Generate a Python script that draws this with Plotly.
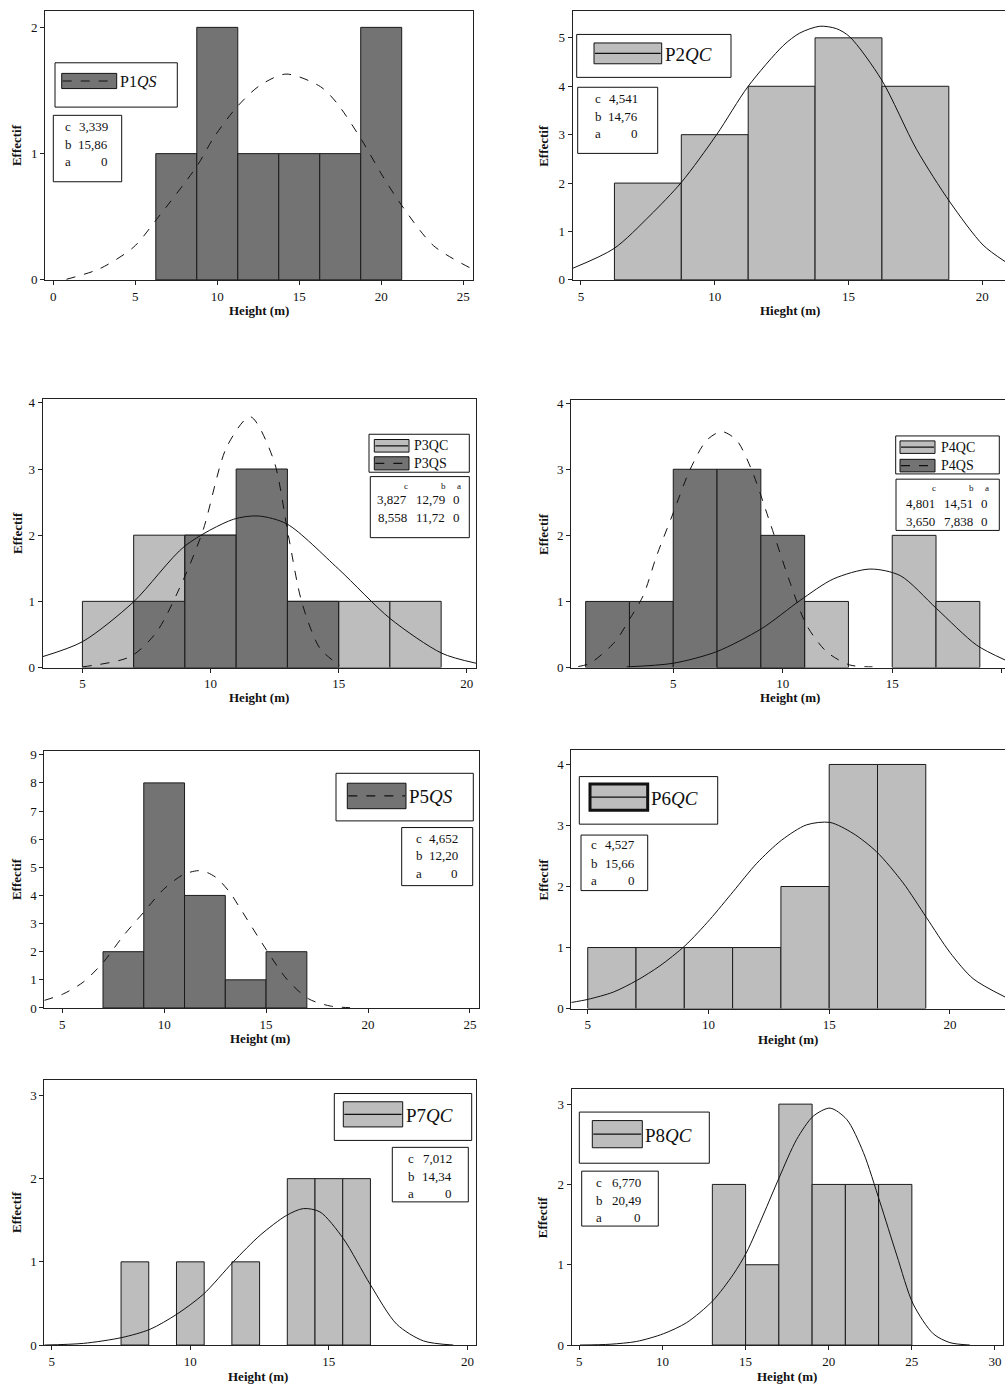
import plotly.graph_objects as go

W, H = 1005, 1392
FONT = "Liberation Serif"
DARK = "#737373"
LIGHT = "#bdbdbd"

# ---------------- data ----------------
# P1 (QS)
p1_centers = [7.5, 10.0, 12.5, 15.0, 17.5, 20.0]
p1_counts = [1, 2, 1, 1, 1, 2]
p1_curve_x = [0.8, 2.85, 4.9, 6.3, 8.75, 9.8, 11.2, 12.6, 14.2, 16.3, 17.3, 18.8, 20.1, 21.25, 23.2, 25.5]
p1_curve_y = [0.005, 0.09, 0.26, 0.48, 0.90, 1.13, 1.37, 1.54, 1.63, 1.53, 1.40, 1.11, 0.82, 0.59, 0.27, 0.09]
p1_params = ["3,339", "15,86", "0"]

# P2 (QC)
p2_centers = [7.5, 10.0, 12.5, 15.0, 17.5]
p2_counts = [2, 3, 4, 5, 4]
p2_curve_x = [4.69, 6.24, 7.58, 8.76, 10.07, 11.25, 12.56, 13.18, 13.93, 14.55, 15.05, 16.24, 17.54, 18.79, 20.03, 20.85]
p2_curve_y = [0.24, 0.65, 1.33, 2.02, 3.0, 4.0, 4.84, 5.10, 5.24, 5.19, 5.02, 4.13, 2.70, 1.61, 0.72, 0.38]
p2_params = ["4,541", "14,76", "0"]

# P3 (QC + QS)
p3_centers = [6, 8, 10, 12, 14, 16, 18]
p3qc_counts = [1, 2, 2, 2, 1, 1, 1]
p3qs_counts = [0, 1, 2, 3, 1, 0, 0]
p3qc_curve_x = [3.45, 5.0, 6.99, 9.01, 10.89, 11.87, 12.98, 14.99, 17.01, 19.03, 20.36]
p3qc_curve_y = [0.165, 0.39, 0.99, 1.84, 2.24, 2.29, 2.17, 1.49, 0.74, 0.215, 0.065]
p3qs_curve_x = [5.0, 6.87, 7.9, 9.01, 9.72, 10.64, 11.55, 12.46, 13.04, 13.56, 14.27, 15.05]
p3qs_curve_y = [0.01, 0.165, 0.54, 1.39, 2.09, 3.34, 3.79, 3.14, 1.99, 0.99, 0.29, 0.03]
p3_params = [["3,827", "12,79", "0"], ["8,558", "11,72", "0"]]

# P4 (QC + QS)
p4_centers = [2, 4, 6, 8, 10, 12, 14, 16, 18]
p4qc_counts = [0, 0, 0, 1, 1, 1, 0, 2, 1]
p4qs_counts = [1, 1, 3, 3, 2, 0, 0, 0, 0]
p4qs_curve_x = [0.66, 1.2, 2.34, 3.02, 3.63, 4.24, 5.0, 5.76, 6.53, 7.21, 7.89, 8.58, 9.42, 10.33, 11.09, 12.0, 13.05, 14.1]
p4qs_curve_y = [0.015, 0.065, 0.39, 0.74, 1.09, 1.69, 2.34, 2.99, 3.44, 3.57, 3.44, 2.99, 2.19, 1.29, 0.64, 0.24, 0.04, 0.01]
p4qc_curve_x = [2.87, 5.0, 6.98, 9.04, 10.79, 12.31, 13.98, 15.37, 17.03, 18.85, 20.15]
p4qc_curve_y = [0.01, 0.065, 0.24, 0.59, 1.015, 1.34, 1.49, 1.39, 0.89, 0.34, 0.115]
p4_params = [["4,801", "14,51", "0"], ["3,650", "7,838", "0"]]

# P5 (QS)
p5_centers = [8, 10, 12, 14, 16]
p5_counts = [2, 8, 4, 1, 2]
p5_curve_x = [4.12, 5.05, 6.03, 7.01, 7.99, 8.97, 9.96, 10.94, 11.67, 12.09, 12.58, 13.23, 13.72, 15.03, 16.01, 17.07, 18.14, 19.12]
p5_curve_y = [0.27, 0.5, 0.92, 1.62, 2.56, 3.38, 4.21, 4.74, 4.88, 4.82, 4.62, 4.1, 3.55, 2.05, 1.03, 0.33, 0.07, 0.01]
p5_params = ["4,652", "12,20", "0"]

# P6 (QC)
p6_centers = [6, 8, 10, 12, 14, 16, 18]
p6_counts = [1, 1, 1, 1, 2, 4, 4]
p6_curve_x = [4.32, 5.0, 6.06, 7.03, 7.99, 9.03, 10.06, 11.03, 12.0, 13.03, 14.06, 15.03, 15.99, 16.96, 18.06, 19.03, 20.0, 20.96, 22.28]
p6_curve_y = [0.1, 0.15, 0.27, 0.46, 0.70, 1.03, 1.46, 1.92, 2.38, 2.76, 3.01, 3.05, 2.87, 2.57, 2.06, 1.49, 0.92, 0.49, 0.19]
p6_params = ["4,527", "15,66", "0"]

# P7 (QC)
p7_centers = [8, 10, 12, 14, 15, 16]
p7_counts = [1, 1, 1, 2, 2, 2]
p7_curve_x = [4.73, 6.14, 7.53, 8.55, 9.51, 10.47, 11.55, 12.52, 13.48, 14.08, 14.68, 15.52, 16.49, 17.45, 18.41, 19.49]
p7_curve_y = [0.0, 0.02, 0.09, 0.19, 0.37, 0.61, 1.0, 1.32, 1.56, 1.64, 1.6, 1.28, 0.73, 0.25, 0.05, 0.0]
p7_params = ["7,012", "14,34", "0"]

# P8 (QC)
p8_centers = [14, 16, 18, 20, 22, 24]
p8_counts = [2, 1, 3, 2, 2, 2]
p8_curve_x = [5.04, 6.85, 8.45, 10.05, 11.46, 13.02, 14.26, 15.07, 16.06, 17.03, 18.07, 19.07, 20.08, 21.08, 22.08, 23.08, 24.09, 25.08, 26.29, 27.29, 28.49]
p8_curve_y = [0.0, 0.01, 0.045, 0.14, 0.28, 0.55, 0.88, 1.16, 1.62, 2.09, 2.56, 2.85, 2.95, 2.81, 2.40, 1.78, 1.12, 0.51, 0.14, 0.03, 0.0]
p8_params = ["6,770", "20,49", "0"]

# ---------------- helpers ----------------
def px(x):
    return x / W


def py(y):
    return 1 - y / H


fig = go.Figure()
shapes = []
annotations = []
layout = {}

panels = [
    dict(L=45, R=473, T=7, B=278.3, xr=[-0.51, 25.6], yr=[0, 2.13], xt=[0, 5, 10, 15, 20, 25], yt=[0, 1, 2],
         xtitle="Height (m)", mirror_y=True, ex=16.7, tx=259, ty=309.3),
    dict(L=572.7, R=1005, T=7.3, B=278.3, xr=[4.69, 20.85], yr=[0, 5.55], xt=[5, 10, 15, 20], yt=[0, 1, 2, 3, 4, 5],
         xtitle="Hieght (m)", mirror_y=False, ex=543.3, tx=790, ty=309.3),
    dict(L=42.7, R=476, T=398.3, B=669.3, xr=[3.45, 20.36], yr=[0, 4.06], xt=[5, 10, 15, 20], yt=[0, 1, 2, 3, 4],
         xtitle="Height (m)", mirror_y=True, ex=16.7, tx=259.3, ty=700),
    dict(L=571, R=1005, T=399.3, B=669.3, xr=[0.33, 20.15], yr=[0, 4.05], xt=[5, 10, 15, 20], yt=[0, 1, 2, 3, 4],
         xtitle="Height (m)", mirror_y=False, ex=543.3, tx=790, ty=700),
    dict(L=44.3, R=479.3, T=753.3, B=1012.7, xr=[4.12, 25.46], yr=[0, 9.14], xt=[5, 10, 15, 20, 25],
         yt=list(range(10)), xtitle="Height (m)", mirror_y=True, ex=16.7, tx=260, ty=1043.3),
    dict(L=571.3, R=1005, T=752.3, B=1013.3, xr=[4.32, 22.28], yr=[0, 4.24], xt=[5, 10, 15, 20], yt=[0, 1, 2, 3, 4],
         xtitle="Height (m)", mirror_y=False, ex=543.3, tx=788.3, ty=1044),
    dict(L=44.3, R=476, T=1085, B=1352.7, xr=[4.73, 20.31], yr=[0, 3.19], xt=[5, 10, 15, 20], yt=[0, 1, 2, 3],
         xtitle="Height (m)", mirror_y=True, ex=16.7, tx=258.3, ty=1384.3),
    dict(L=571.7, R=1003.3, T=1094.3, B=1352.7, xr=[4.54, 30.5], yr=[0, 3.19], xt=[5, 10, 15, 20, 25, 30],
         yt=[0, 1, 2, 3], xtitle="Height (m)", mirror_y=True, ex=543.3, tx=786.7, ty=1384.3),
]

bar_data = [
    [(p1_centers, p1_counts, 2.5, DARK)],
    [(p2_centers, p2_counts, 2.5, LIGHT)],
    [(p3_centers, p3qc_counts, 2, LIGHT), (p3_centers, p3qs_counts, 2, DARK)],
    [(p4_centers, p4qc_counts, 2, LIGHT), (p4_centers, p4qs_counts, 2, DARK)],
    [(p5_centers, p5_counts, 2, DARK)],
    [(p6_centers, p6_counts, 2, LIGHT)],
    [(p7_centers, p7_counts, 1, LIGHT)],
    [(p8_centers, p8_counts, 2, LIGHT)],
]

curve_data = [
    [(p1_curve_x, p1_curve_y, "dash")],
    [(p2_curve_x, p2_curve_y, "solid")],
    [(p3qc_curve_x, p3qc_curve_y, "solid"), (p3qs_curve_x, p3qs_curve_y, "dash")],
    [(p4qc_curve_x, p4qc_curve_y, "solid"), (p4qs_curve_x, p4qs_curve_y, "dash")],
    [(p5_curve_x, p5_curve_y, "dash")],
    [(p6_curve_x, p6_curve_y, "solid")],
    [(p7_curve_x, p7_curve_y, "solid")],
    [(p8_curve_x, p8_curve_y, "solid")],
]

for i, p in enumerate(panels):
    n = i + 1
    xa = "x" if n == 1 else f"x{n}"
    ya = "y" if n == 1 else f"y{n}"
    xkey = "xaxis" if n == 1 else f"xaxis{n}"
    ykey = "yaxis" if n == 1 else f"yaxis{n}"
    tickfont = dict(family=FONT, size=13, color="#111")
    layout[xkey] = dict(domain=[px(p["L"]), min(1.0, px(p["R"]))], range=p["xr"], anchor=ya,
                        tickvals=p["xt"], ticks="outside", ticklen=4, tickcolor="#222",
                        showline=True, linecolor="#222", linewidth=1, mirror=True,
                        showgrid=False, zeroline=False, tickfont=tickfont)
    layout[ykey] = dict(domain=[py(p["B"]), py(p["T"])], range=p["yr"], anchor=xa,
                        tickvals=p["yt"], ticks="outside", ticklen=4, tickcolor="#222",
                        showline=True, linecolor="#222", linewidth=1, mirror=p["mirror_y"],
                        showgrid=False, zeroline=False, tickfont=tickfont)
    for centers, counts, width, color in bar_data[i]:
        keep = [(c, v) for c, v in zip(centers, counts) if v > 0]
        fig.add_trace(go.Bar(x=[k[0] for k in keep], y=[k[1] for k in keep], width=width, xaxis=xa, yaxis=ya,
                             marker=dict(color=color, line=dict(color="#1a1a1a", width=1)),
                             showlegend=False, hoverinfo="skip"))
    for cx, cy, dash in curve_data[i]:
        fig.add_trace(go.Scatter(x=cx, y=cy, mode="lines", xaxis=xa, yaxis=ya,
                                 line=dict(color="#111", width=1, dash=dash, shape="spline", smoothing=0.8),
                                 showlegend=False, hoverinfo="skip"))
    annotations.append(dict(x=px(p["ex"]), y=py((p["T"] + p["B"]) / 2), xref="paper", yref="paper",
                            text="<b>Effectif</b>", textangle=-90, showarrow=False,
                            font=dict(family=FONT, size=13, color="#111"), xanchor="center", yanchor="middle"))
    annotations.append(dict(x=px(p["tx"]), y=py(p["ty"]), xref="paper", yref="paper",
                            text="<b>" + p["xtitle"] + "</b>", showarrow=False,
                            font=dict(family=FONT, size=13, color="#111"), xanchor="center", yanchor="middle"))


def rect(x0, y0, x1, y1, fill="white", lw=1):
    shapes.append(dict(type="rect", xref="paper", yref="paper", x0=px(x0), x1=px(x1), y0=py(y1), y1=py(y0),
                       fillcolor=fill, line=dict(color="#111", width=lw), layer="above"))


def hline(x0, x1, y, dash="solid"):
    shapes.append(dict(type="line", xref="paper", yref="paper", x0=px(x0), x1=px(x1), y0=py(y), y1=py(y),
                       line=dict(color="#111", width=1.2, dash=dash), layer="above"))


def text(x, y, t, size, anchor="left"):
    annotations.append(dict(x=px(x), y=py(y), xref="paper", yref="paper", text=t, showarrow=False,
                            font=dict(family=FONT, size=size, color="#111"), xanchor=anchor, yanchor="middle"))


def single_legend(box, sw, label, fill, dash, size, sw_lw=1):
    rect(*box)
    rect(*sw, fill=fill, lw=sw_lw)
    mid = (sw[1] + sw[3]) / 2
    hline(sw[0] + 1, sw[2] - 1, mid, dash)
    text(sw[2] + 1, mid + 1, label, size)


def single_params(box, cx, rx, rows, vals, size=13):
    rect(*box)
    for lab, ry, v in zip(["c", "b", "a"], rows, vals):
        text(cx, ry, lab, size, "left")
        text(rx, ry, v, size, "right")


single_legend((55, 59.3, 177.3, 104), (61.7, 70, 116.7, 85.3), "P1<i>QS</i>", DARK, "dash", 16)
single_params((53.3, 112.3, 121.7, 179.3), 63, 110, [124, 141.7, 159.3], p1_params)
single_legend((576.7, 30.7, 731, 74), (594, 39.3, 661.7, 60.3), "P2<i>QC</i>", LIGHT, "solid", 19)
single_params((577.7, 84, 657.7, 150.7), 593, 640, [95, 113.3, 131], p2_params)
single_legend((336, 776, 473.3, 824), (347.3, 786, 406, 811.7), "P5<i>QS</i>", DARK, "dash", 19)
single_params((401.7, 830.7, 472.7, 889.3), 414, 460, [841.7, 859.3, 877.3], p5_params)
single_legend((579.3, 779.3, 717.7, 827.3), (590, 786.7, 647.7, 813.3), "P6<i>QC</i>", LIGHT, "solid", 19, sw_lw=3)
single_params((581, 838.3, 647.7, 894.3), 589, 637, [848.3, 866.7, 884], p6_params)
single_legend((334.3, 1099, 471.7, 1146.3), (343.3, 1107.3, 402.7, 1132.7), "P7<i>QC</i>", LIGHT, "solid", 19)
single_params((392.3, 1153.3, 468.3, 1208.3), 406, 454, [1164.3, 1182.3, 1200], p7_params)
single_legend((579.3, 1117.7, 709.3, 1169.3), (592.3, 1126.3, 642.3, 1153.7), "P8<i>QC</i>", LIGHT, "solid", 19)
single_params((581.7, 1177.3, 658.3, 1232.7), 594, 642.5, [1189, 1206.7, 1224], p8_params)


def double_legend(box, sw1, sw2, labels, tx, pbox, hdr_y, hdr_x, rows_y, val_rx, vals):
    rect(*box)
    rect(*sw1, fill=LIGHT)
    hline(sw1[0] + 1, sw1[2] - 1, (sw1[1] + sw1[3]) / 2, "solid")
    rect(*sw2, fill=DARK)
    hline(sw2[0] + 1, sw2[2] - 1, (sw2[1] + sw2[3]) / 2, "dash")
    text(tx, (sw1[1] + sw1[3]) / 2, labels[0], 14)
    text(tx, (sw2[1] + sw2[3]) / 2, labels[1], 14)
    rect(*pbox)
    for lab, hx in zip(["c", "b", "a"], hdr_x):
        text(hx, hdr_y, lab, 9, "center")
    for ry, row in zip(rows_y, vals):
        for v, rx in zip(row, val_rx):
            text(rx, ry, v, 13, "right")


double_legend((369, 434, 469.3, 472.3), (374.3, 439.3, 409, 452), (374.3, 456.7, 409, 470),
              ["P3QC", "P3QS"], 412, (370.3, 476.7, 469.3, 538.3), 485.7, [406, 443.3, 459],
              [500, 518.3], [409, 446.5, 462], p3_params)
double_legend((895.7, 435.7, 999.3, 474), (900, 440.7, 935, 453.3), (900, 459.3, 935, 472),
              ["P4QC", "P4QS"], 938.5, (896, 479.3, 999.3, 531), 488.3, [934.3, 971, 986.7],
              [504, 521.7], [936.5, 974.5, 989.5], p4_params)

layout.update(dict(width=W, height=H, margin=dict(l=0, r=0, t=0, b=0), paper_bgcolor="white",
                   plot_bgcolor="white", barmode="overlay", bargap=0, shapes=shapes, annotations=annotations,
                   showlegend=False))
fig.update_layout(**layout)
fig.write_html("out.html", config={"displayModeBar": False, "staticPlot": True},
               post_script="document.body.style.margin='0';document.body.style.padding='0';"
                           "document.documentElement.style.overflow='hidden';")
